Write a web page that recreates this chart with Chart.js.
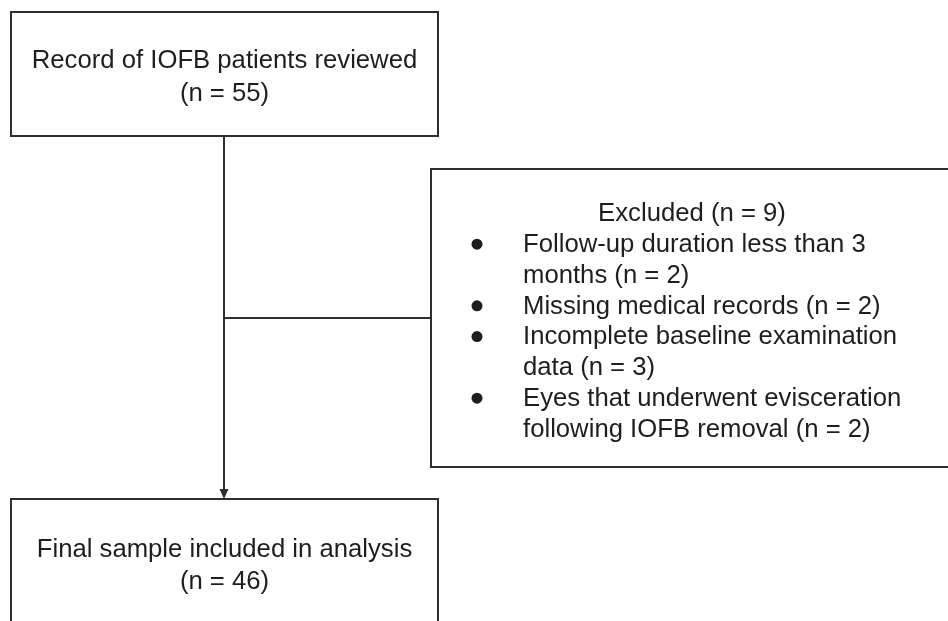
<!DOCTYPE html>
<html>
<head>
<meta charset="utf-8">
<script src="https://cdn.jsdelivr.net/npm/chart.js@4/dist/chart.umd.min.js"></script>
<style>
  html, body { margin: 0; padding: 0; background: #ffffff; }
  #wrap { width: 948px; height: 621px; position: relative; }
</style>
</head>
<body>
<div id="wrap"><canvas id="c" width="948" height="621"></canvas></div>
<script>
// ---- Data (flow counts and labels) ----
const stageLabels = ["Record of IOFB patients reviewed", "Final sample included in analysis"];
const stageCounts = [55, 46];
const excludedLabel = "Excluded";
const excludedCount = 9;
const exclusionReasons = [
  ["Follow-up duration less than 3", "months"],
  ["Missing medical records"],
  ["Incomplete baseline examination", "data"],
  ["Eyes that underwent evisceration", "following IOFB removal"]
];
const exclusionCounts = [2, 2, 3, 2];

// ---- Layout (in chart axis units; axes span the canvas 0..948 x 0..621) ----
const layout = {
  topBox:    { x0: 11,  y0: 12,  x1: 438, y1: 136 },
  bottomBox: { x0: 11,  y0: 499, x1: 438, y1: 640 },
  exclBox:   { x0: 431, y0: 169, x1: 960, y1: 467 },
  trunkX: 224,
  branchY: 318,
  topTextY: [68, 101],       // baselines
  bottomTextY: [557, 589],
  exclTitle: { x: 692, y: 221 },
  bulletX: 477,
  reasonX: 523,
  reasonY0: 252,
  lineGap: 30.8
};
const lineColor = "#2e2e2e";
const textColor = "#1e1e1e";
const fontFamily = "'Liberation Sans', Arial, sans-serif";
const fontSize = 25.7;

const flowPlugin = {
  id: 'flow',
  afterDraw(chart) {
    const ctx = chart.ctx;
    const xs = chart.scales.x, ys = chart.scales.y;
    const X = v => xs.getPixelForValue(v);
    const Y = v => ys.getPixelForValue(v);
    ctx.save();
    ctx.strokeStyle = lineColor;
    ctx.lineWidth = 2;
    const rect = b => { ctx.strokeRect(X(b.x0), Y(b.y0), X(b.x1) - X(b.x0), Y(b.y1) - Y(b.y0)); };
    rect(layout.topBox); rect(layout.bottomBox); rect(layout.exclBox);
    // trunk
    ctx.beginPath();
    ctx.moveTo(X(layout.trunkX), Y(layout.topBox.y1));
    ctx.lineTo(X(layout.trunkX), Y(layout.bottomBox.y0 - 8));
    ctx.stroke();
    // branch
    ctx.beginPath();
    ctx.moveTo(X(layout.trunkX), Y(layout.branchY));
    ctx.lineTo(X(layout.exclBox.x0), Y(layout.branchY));
    ctx.stroke();
    // arrow head
    ctx.fillStyle = lineColor;
    ctx.beginPath();
    ctx.moveTo(X(layout.trunkX), Y(layout.bottomBox.y0));
    ctx.lineTo(X(layout.trunkX - 4.5), Y(layout.bottomBox.y0 - 10));
    ctx.lineTo(X(layout.trunkX + 4.5), Y(layout.bottomBox.y0 - 10));
    ctx.closePath();
    ctx.fill();

    // texts
    ctx.fillStyle = textColor;
    ctx.font = fontSize + "px " + fontFamily;
    ctx.textBaseline = "alphabetic";
    const text = (t, x, y, align) => {
      ctx.textAlign = align;
      ctx.fillText(t, x, y);
    };
    const cx = X((layout.topBox.x0 + layout.topBox.x1) / 2);
    text(stageLabels[0], cx, Y(layout.topTextY[0]), "center");
    text("(n = " + stageCounts[0] + ")", cx, Y(layout.topTextY[1]), "center");
    text(stageLabels[1], cx, Y(layout.bottomTextY[0]), "center");
    text("(n = " + stageCounts[1] + ")", cx, Y(layout.bottomTextY[1]), "center");
    text(excludedLabel + " (n = " + excludedCount + ")", X(layout.exclTitle.x), Y(layout.exclTitle.y), "center");

    let row = 0;
    exclusionReasons.forEach((lines, i) => {
      const yb = layout.reasonY0 + row * layout.lineGap;
      ctx.beginPath();
      ctx.arc(X(layout.bulletX), Y(yb - 7.8), 5.5, 0, Math.PI * 2);
      ctx.fill();
      lines.forEach((ln, j) => {
        let txt = ln;
        if (j === lines.length - 1) txt += " (n = " + exclusionCounts[i] + ")";
        text(txt, X(layout.reasonX), Y(layout.reasonY0 + row * layout.lineGap), "left");
        row++;
      });
    });
    ctx.restore();
  }
};

new Chart(document.getElementById('c'), {
  type: 'scatter',
  data: { datasets: [{ data: [], pointRadius: 0 }] },
  options: {
    responsive: false,
    animation: false,
    devicePixelRatio: 1,
    layout: { padding: 0 },
    plugins: { legend: { display: false }, tooltip: { enabled: false } },
    scales: {
      x: { type: 'linear', min: 0, max: 948, display: false },
      y: { type: 'linear', min: 0, max: 621, reverse: true, display: false }
    }
  },
  plugins: [flowPlugin]
});
</script>
</body>
</html>
